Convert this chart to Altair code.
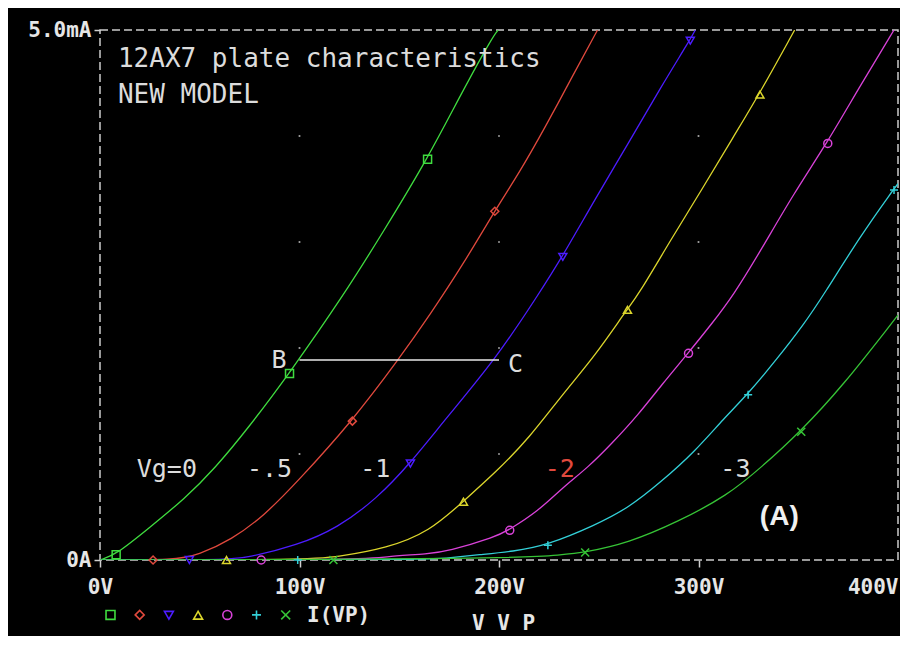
import altair as alt
import pandas as pd

# ---- series (grid voltage Vg) ----
series = ["0", "-0.5", "-1", "-1.5", "-2", "-2.5", "-3"]
colors = ["#3fdc3f", "#e0493d", "#4c1cff", "#dcd62c", "#d942d9", "#33d0d8", "#36c436"]
shapes = ["square", "diamond", "triangle-down", "triangle-up", "circle",
          "M-1,0L1,0M0,-1L0,1", "M-1,-1L1,1M-1,1L1,-1"]

# ---- plate voltage (V) / plate current (mA) traces ----
v_0 = [0, 8, 24.4, 42.6, 57.6, 74.1, 94.9, 122.2, 142.1, 164.0, 181.9, 196.9, 199.6]
i_0 = [0, 0.05, 0.30, 0.58, 0.865, 1.24, 1.76, 2.50, 3.10, 3.78, 4.43, 4.94, 5.0]

v_m05 = [0, 38, 49, 65.8, 82.4, 99, 126.4, 149.6, 165.3, 182.4, 197.7, 210.1, 223.4, 236.7, 249.4]
i_m05 = [0, 0, 0.047, 0.19, 0.42, 0.74, 1.31, 1.89, 2.31, 2.80, 3.29, 3.65, 4.09, 4.56, 5.0]

v_m1 = [0, 60, 74, 99, 118.9, 138.8, 155.4, 173.6, 198.5, 219.6, 231.7, 248.3, 264.8, 281.4, 295.5, 298.4]
i_m1 = [0, 0, 0.02, 0.14, 0.30, 0.58, 0.91, 1.34, 1.90, 2.50, 2.86, 3.41, 3.93, 4.47, 4.90, 5.0]

v_m15 = [0, 105, 118.9, 143.8, 165.3, 181.9, 198.5, 215.1, 231.7, 248.3, 264.0, 269.8, 286.4, 302.5, 317.4, 330.3, 348.2]
i_m15 = [0, 0, 0.03, 0.11, 0.27, 0.55, 0.83, 1.15, 1.56, 1.93, 2.36, 2.50, 3.03, 3.52, 3.99, 4.39, 5.0]

v_m2 = [0, 130, 142.1, 165.3, 174, 198.5, 204.6, 219.6, 231.7, 245, 256.6, 269.8, 281.4, 294.7, 306.3, 317.6, 331.2, 347.8, 364.3, 380.9, 398]
i_m2 = [0, 0, 0.03, 0.06, 0.08, 0.22, 0.28, 0.46, 0.68, 0.88, 1.10, 1.37, 1.65, 1.95, 2.22, 2.50, 2.92, 3.46, 3.93, 4.47, 5.0]

v_m25 = [0, 165, 175, 190, 207, 224.2, 248.3, 264.8, 281.4, 298, 312.9, 324.5, 339.5, 352.7, 362.7, 380.9, 397.5, 400]
i_m25 = [0, 0, 0.02, 0.05, 0.08, 0.14, 0.33, 0.49, 0.74, 1.02, 1.34, 1.56, 1.90, 2.22, 2.50, 3.05, 3.49, 3.55]

v_m3 = [0, 207, 231.7, 242.4, 264.8, 289.7, 314.6, 331.2, 351.1, 372.6, 397.5, 400]
i_m3 = [0, 0.01, 0.05, 0.07, 0.16, 0.36, 0.61, 0.87, 1.21, 1.65, 2.25, 2.31]

# ---- trace markers ----
mv_0, mi_0 = [8.1, 95.0, 164.2], [0.05, 1.76, 3.78]
mv_m05, mi_m05 = [26.6, 126.5, 197.9], [0, 1.31, 3.29]
mv_m1, mi_m1 = [44.8, 155.6, 232.0, 295.9], [0, 0.91, 2.86, 4.90]
mv_m15, mi_m15 = [63.4, 182.2, 264.4, 330.8], [0, 0.55, 2.36, 4.39]
mv_m2, mi_m2 = [80.8, 205.4, 295.0, 364.8], [0, 0.28, 1.95, 3.93]
mv_m25, mi_m25 = [99.1, 224.5, 324.9, 398.0], [0, 0.14, 1.56, 3.49]
mv_m3, mi_m3 = [117.0, 243.2, 351.5], [0, 0.07, 1.21]

# ---- grid dots, load line, annotations ----
grid_v = [100, 200, 300]
grid_i = [1, 2, 3, 4]
bc_v = [100, 200]
bc_i = [1.887, 1.887]

title_text = ["12AX7 plate characteristics", "NEW MODEL"]
title_v = [9.0, 9.0]
title_i = [4.65, 4.31]

label_text = ["Vg=0", "-.5", "-1", "-2", "-3", "B", "C"]
label_v = [33.5, 85.0, 138.0, 230.5, 318.5, 89.8, 208.3]
label_i = [0.783, 0.783, 0.783, 0.783, 0.783, 1.811, 1.774]
label_col = ["#dcdcdc", "#dcdcdc", "#dcdcdc", "#e0493d", "#dcdcdc", "#dcdcdc", "#dcdcdc"]

tag_text = ["(A)"]
tag_v = [340.5]
tag_i = [0.33]

# ---- build tables ----
traces = [(v_0, i_0), (v_m05, i_m05), (v_m1, i_m1), (v_m15, i_m15),
          (v_m2, i_m2), (v_m25, i_m25), (v_m3, i_m3)]
marks = [(mv_0, mi_0), (mv_m05, mi_m05), (mv_m1, mi_m1), (mv_m15, mi_m15),
         (mv_m2, mi_m2), (mv_m25, mi_m25), (mv_m3, mi_m3)]

rows = []
for s, col, (vs, cs) in zip(series, colors, traces):
    for k, (v, c) in enumerate(zip(vs, cs)):
        rows.append({"Vg": s, "col": col, "V": v, "I": c, "k": k})
df_lines = pd.DataFrame(rows)

rows = []
for s, (vs, cs) in zip(series, marks):
    for v, c in zip(vs, cs):
        rows.append({"Vg": s, "V": v, "I": c})
df_marks = pd.DataFrame(rows)

df_grid = pd.DataFrame([{"V": v, "I": c} for v in grid_v for c in grid_i])
df_bc = pd.DataFrame({"V": bc_v, "I": bc_i})
df_title = pd.DataFrame({"t": title_text, "V": title_v, "I": title_i})
df_lab = pd.DataFrame({"t": label_text, "V": label_v, "I": label_i, "c": label_col})
df_tag = pd.DataFrame({"t": tag_text, "V": tag_v, "I": tag_i})

AXIS_FONT = "DejaVu Sans Mono"
TXT = "#e6e6e6"

xscale = alt.Scale(domain=[0, 400], nice=False, zero=False)
yscale = alt.Scale(domain=[0, 5], nice=False, zero=False)

xaxis = alt.Axis(
    values=[0, 100, 200, 300, 400],
    labelExpr="datum.value + 'V'",
    grid=False, domain=False,
    tickSize=7, tickWidth=1.5,
    tickColor={"condition": {"test": "datum.value == 400", "value": "transparent"}, "value": "#cfcfcf"},
    labelFont=AXIS_FONT, labelFontWeight="bold", labelFontSize=21, labelColor=TXT,
    labelPadding=9, labelOverlap=False, labelFlush=False,
    labelAlign={"condition": {"test": "datum.value == 400", "value": "right"}, "value": "center"},
    title="V V P", titleFont=AXIS_FONT, titleFontWeight="bold", titleFontSize=21,
    titleColor=TXT, titleX=403, titleY=69, titleAlign="center", titleBaseline="alphabetic",
)
yaxis = alt.Axis(
    values=[0, 5],
    labelExpr="datum.value == 0 ? '0A' : format(datum.value, '.1f') + 'mA'",
    grid=False, domain=False,
    tickSize=6, tickWidth=1.5, tickColor="#cfcfcf",
    labelFont=AXIS_FONT, labelFontWeight="bold", labelFontSize=21, labelColor=TXT,
    labelPadding=3, labelBaseline="middle", title=None,
)

X = alt.X("V:Q", scale=xscale, axis=xaxis)
Y = alt.Y("I:Q", scale=yscale, axis=yaxis)
Xn = alt.X("V:Q", scale=xscale)
Yn = alt.Y("I:Q", scale=yscale)

grid = alt.Chart(df_grid).mark_square(size=3, color="#b0b0b0", opacity=1).encode(x=X, y=Y)

lines = alt.Chart(df_lines).mark_line(strokeWidth=1.3, clip=True, interpolate="basis").encode(
    x=Xn, y=Yn,
    stroke=alt.Stroke("col:N", scale=None),
    detail="Vg:N",
    order="k:Q",
)

leg = alt.Legend(
    orient="none", legendX=5, legendY=579, direction="horizontal", columns=7,
    labelExpr="''", labelFontSize=6, labelOffset=0, columnPadding=12.2,
    symbolSize=80, symbolStrokeWidth=1.6, padding=0,
    title="I(VP)", titleOrient="right", titleFont=AXIS_FONT, titleFontWeight="bold",
    titleFontSize=21, titleColor=TXT, titlePadding=14, titleBaseline="middle",
)

markers = alt.Chart(df_marks).mark_point(filled=False, size=64, strokeWidth=1.5, opacity=1).encode(
    x=Xn, y=Yn,
    color=alt.Color("Vg:N", scale=alt.Scale(domain=series, range=colors), legend=leg, sort=series),
    shape=alt.Shape("Vg:N", scale=alt.Scale(domain=series, range=shapes), legend=leg, sort=series),
)

bc = alt.Chart(df_bc).mark_line(color="#e8e8e8", strokeWidth=1.6).encode(x=Xn, y=Yn)

titles = alt.Chart(df_title).mark_text(
    align="left", baseline="alphabetic", font="DejaVu Sans Mono", fontSize=26, color="#dcdcdc"
).encode(x=Xn, y=Yn, text="t:N")

labels = alt.Chart(df_lab).mark_text(
    align="center", baseline="alphabetic", font="DejaVu Sans Mono", fontSize=25
).encode(x=Xn, y=Yn, text="t:N", color=alt.Color("c:N", scale=None))

tag = alt.Chart(df_tag).mark_text(
    align="center", baseline="alphabetic", font="Liberation Sans", fontWeight="bold",
    fontSize=28, color="#f0f0f0"
).encode(x=Xn, y=Yn, text="t:N")

chart = alt.layer(grid, lines, markers, bc, titles, labels, tag).properties(
    width=798, height=530,
    autosize=alt.AutoSizeParams(type="none"),
    padding={"left": 92, "top": 22, "right": 2, "bottom": 76},
    background="#000000",
).configure_view(
    stroke="#cccccc", strokeDash=[8, 4], strokeWidth=1.5
)

chart.save("out.html", embed_options={"renderer": "svg", "actions": False})
